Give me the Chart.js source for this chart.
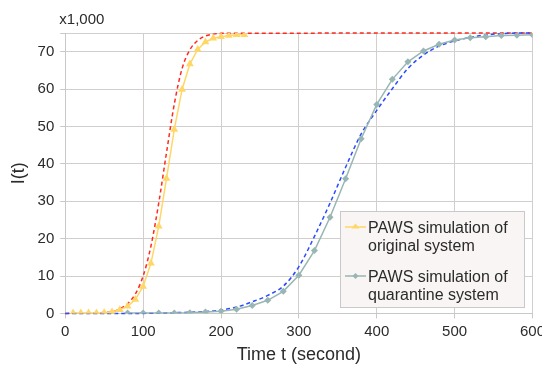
<!DOCTYPE html>
<html>
<head>
<meta charset="utf-8">
<script src="https://cdn.jsdelivr.net/npm/chart.js@4.4.1/dist/chart.umd.min.js"></script>
<style>
  html, body { margin: 0; padding: 0; background: #fff; overflow: hidden; }
  #wrap { width: 549px; height: 368px; }
</style>
</head>
<body>
<div id="wrap"><canvas id="myChart" width="549" height="368"></canvas></div>
<script>
// time points (seconds) and I(t) values in thousands
const tSimOriginal = [10, 20, 30, 40, 50, 60, 70, 80, 90, 100, 110, 120, 130, 140, 150, 160, 170, 180, 190, 200, 210, 220, 230];
const simOriginal = [0.1, 0.1, 0.1, 0.1, 0.2, 0.4, 1.0, 1.9, 3.7, 7.2, 13.4, 23.3, 36.1, 49.2, 59.9, 66.7, 70.6, 72.6, 73.6, 74.0, 74.3, 74.5, 74.5];

const tModelOriginal = [0, 10, 20, 30, 40, 50, 60, 70, 80, 90, 100, 110, 120, 130, 140, 150, 160, 170, 180, 190, 200, 600];
const modelOriginal = [0, 0.05, 0.1, 0.1, 0.15, 0.25, 0.4, 1.2, 2.6, 5.2, 10, 18, 29.5, 43, 56, 65.5, 70.5, 73, 74.2, 74.7, 74.9, 75];

const tSimQuarantine = [80, 100, 120, 140, 160, 180, 200, 220, 240, 260, 280, 300, 320, 340, 360, 380, 400, 420, 440, 460, 480, 500, 520, 540, 560, 580, 600];
const simQuarantine = [0.1, 0.1, 0.1, 0.1, 0.2, 0.4, 0.6, 1.1, 2.1, 3.5, 5.9, 10.2, 16.8, 25.7, 36.0, 46.7, 55.9, 62.6, 67.3, 70.2, 72.0, 73.1, 73.7, 74.0, 74.3, 74.4, 74.5];

const tModelQuarantine = [0, 20, 40, 60, 80, 100, 120, 140, 160, 180, 200, 220, 240, 260, 280, 300, 320, 340, 360, 380, 400, 420, 440, 460, 480, 500, 520, 540, 560, 580, 600];
const modelQuarantine = [0, 0, 0, 0, 0, 0, 0.1, 0.2, 0.3, 0.5, 0.9, 1.7, 3.1, 4.8, 7.3, 12.5, 20.6, 29.5, 39.1, 48, 54.3, 60.1, 65.5, 69.1, 71.5, 72.9, 73.8, 74.5, 74.8, 75, 75];

const xTicks = [0, 100, 200, 300, 400, 500, 600];
const yTicks = [0, 10, 20, 30, 40, 50, 60, 70];

const legendOriginal = ["PAWS simulation of", "original system"];
const legendQuarantine = ["PAWS simulation of", "quarantine system"];

const yellow = "#FFD766";
const teal = "#98B6B3";
const textColor = "#2b2b2b";
const font = "'Liberation Sans', Arial, Helvetica, sans-serif";

function toPoints(xs, ys) {
  return xs.map((x, i) => ({ x: x, y: ys[i] }));
}

// legend box and "x1,000" label, drawn by hand
const extras = {
  id: "extras",
  afterDraw(chart) {
    const ctx = chart.ctx;
    const area = chart.chartArea;
    ctx.save();
    ctx.font = "15px " + font;
    ctx.fillStyle = textColor;
    ctx.textBaseline = "alphabetic";
    ctx.fillText("x1,000", area.left - 6, area.top - 9);

    const bx = 340.5, by = 211.5, bw = 184, bh = 96;
    ctx.fillStyle = "#F8F5F4";
    ctx.fillRect(bx, by, bw, bh);
    ctx.strokeStyle = "#C9C9C9";
    ctx.lineWidth = 1;
    ctx.strokeRect(bx, by, bw, bh);

    const items = [
      { ds: chart.data.datasets[0], lines: legendOriginal, y: 227 },
      { ds: chart.data.datasets[1], lines: legendQuarantine, y: 276 }
    ];
    items.forEach(it => {
      ctx.strokeStyle = it.ds.borderColor;
      ctx.lineWidth = 1.5;
      ctx.beginPath();
      ctx.moveTo(345, it.y);
      ctx.lineTo(366, it.y);
      ctx.stroke();
      ctx.fillStyle = it.ds.borderColor;
      ctx.beginPath();
      if (it.ds.pointStyle === "triangle") {
        ctx.moveTo(355.5, it.y - 3.5);
        ctx.lineTo(359.5, it.y + 1.5);
        ctx.lineTo(351.5, it.y + 1.5);
      } else {
        ctx.moveTo(355.5, it.y - 3);
        ctx.lineTo(358.5, it.y);
        ctx.lineTo(355.5, it.y + 3);
        ctx.lineTo(352.5, it.y);
      }
      ctx.closePath();
      ctx.fill();
      ctx.fillStyle = textColor;
      ctx.font = "16px " + font;
      ctx.fillText(it.lines[0], 368, it.y + 6);
      ctx.fillText(it.lines[1], 368, it.y + 24);
    });
    ctx.restore();
  }
};

new Chart("myChart", {
  type: "line",
  data: {
    datasets: [
      {
        label: legendOriginal.join(" "),
        data: toPoints(tSimOriginal, simOriginal),
        borderColor: yellow,
        backgroundColor: yellow,
        borderWidth: 1.5,
        pointStyle: "triangle",
        pointRadius: 4.5,
        pointBorderWidth: 0,
        order: 1
      },
      {
        label: legendQuarantine.join(" "),
        data: toPoints(tSimQuarantine, simQuarantine),
        borderColor: teal,
        backgroundColor: teal,
        borderWidth: 1.5,
        pointStyle: "rectRot",
        pointRadius: 3.5,
        pointBorderWidth: 0,
        order: 1
      },
      {
        label: "model original",
        data: toPoints(tModelOriginal, modelOriginal),
        borderColor: "#FF2A1E",
        borderWidth: 1.5,
        borderDash: [4, 3],
        pointRadius: 0,
        cubicInterpolationMode: "monotone",
        clip: 3,
        order: 3
      },
      {
        label: "model quarantine",
        data: toPoints(tModelQuarantine, modelQuarantine),
        borderColor: "#2A4BFF",
        borderWidth: 1.5,
        borderDash: [4, 3],
        pointRadius: 0,
        cubicInterpolationMode: "monotone",
        clip: 3,
        order: 2
      }
    ]
  },
  options: {
    responsive: false,
    animation: false,
    layout: { padding: { top: 33, left: 8, bottom: 2 } },
    plugins: {
      legend: { display: false },
      tooltip: { enabled: false }
    },
    scales: {
      x: {
        type: "linear",
        min: 0,
        max: 600,
        afterBuildTicks: s => { s.ticks = xTicks.map(v => ({ value: v })); },
        grid: { color: "#D2CECB", tickLength: 5, tickColor: "#C8C8C8" },
        border: { color: "#C8C8C8" },
        ticks: { color: textColor, font: { size: 15, family: font }, padding: 4, maxRotation: 0 },
        title: { display: true, text: "Time t (second)", color: textColor, font: { size: 18, family: font }, padding: { top: 0, bottom: 0 } }
      },
      y: {
        min: 0,
        max: 75,
        afterBuildTicks: s => { s.ticks = yTicks.concat([75]).map(v => ({ value: v })); },
        grid: { color: "#D2CECB", tickLength: 5, tickColor: "#C8C8C8" },
        border: { color: "#C8C8C8" },
        ticks: {
          color: textColor,
          font: { size: 15, family: font },
          padding: 6,
          callback: v => (v === 75 ? "" : v)
        },
        title: { display: true, text: "I(t)", color: textColor, font: { size: 18, family: font }, padding: { top: 0, bottom: 2 } }
      }
    }
  },
  plugins: [extras]
});
</script>
</body>
</html>
